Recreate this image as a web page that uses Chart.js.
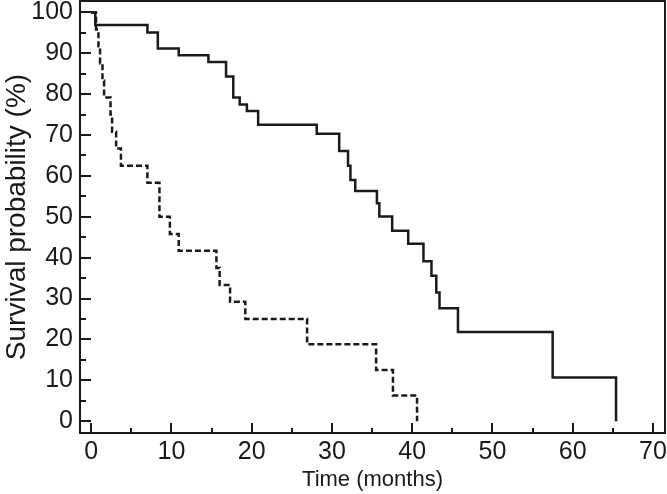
<!DOCTYPE html>
<html>
<head>
<meta charset="utf-8">
<script src="https://cdn.jsdelivr.net/npm/chart.js@4.4.1/dist/chart.umd.min.js"></script>
<style>
  html, body { margin: 0; padding: 0; background: #fff; }
  #wrap { width: 667px; height: 494px; }
</style>
</head>
<body>
<div id="wrap"><canvas id="km"></canvas></div>
<script>
// Kaplan-Meier curves (time in months, survival in %)
const solidTimes = [0, 0.5, 7.0, 8.3, 10.9, 14.6, 16.8, 17.7, 18.5, 19.4, 20.8, 28.1, 30.9, 32.0, 32.3, 32.9,
                    35.6, 35.9, 37.5, 39.5, 41.4, 42.4, 43.0, 43.4, 45.7, 57.5, 65.4];
const solidSurv  = [100, 96.9, 95.1, 91.2, 89.5, 87.9, 84.3, 79.2, 77.5, 75.9, 72.5, 70.3, 66.1, 62.5, 59.0, 56.3,
                    53.3, 50.1, 46.6, 43.4, 39.1, 35.6, 31.5, 27.6, 21.8, 10.7, 0];

const dashedTimes = [0, 0.6, 0.9, 1.1, 1.4, 1.6, 2.4, 2.6, 3.1, 3.7, 7.0, 8.5, 9.8, 10.9, 15.6, 16.0,
                     17.3, 19.2, 26.9, 35.5, 37.6, 40.6];
const dashedSurv  = [100, 95.8, 91.7, 87.5, 83.3, 79.2, 75, 70.8, 66.7, 62.5, 58.3, 50, 45.8, 41.7, 37.5, 33.3,
                     29.2, 25, 18.8, 12.5, 6.3, 0];

// axis ticks
const xTicks = [0, 10, 20, 30, 40, 50, 60, 70];
const yTicks = [0, 10, 20, 30, 40, 50, 60, 70, 80, 90, 100];

const toPoints = (xs, ys) => xs.map((x, i) => ({ x: x, y: ys[i] }));
const FONT = '"Liberation Sans", Arial, sans-serif';
const INK = '#1a1a1a';

// frame + inward tick marks (major every 10, minor every 5)
const frameTicks = {
    id: 'frameTicks',
    afterDatasetsDraw(chart) {
        const { ctx, chartArea: a, scales } = chart;
        ctx.save();
        ctx.strokeStyle = INK;
        ctx.lineWidth = 2;
        ctx.strokeRect(a.left, a.top, a.right - a.left, a.bottom - a.top);
        ctx.beginPath();
        for (let v = 0; v <= 70; v += 5) {
            const px = Math.round(scales.x.getPixelForValue(v));
            const len = v % 10 === 0 ? 10 : 5;
            ctx.moveTo(px, a.bottom);
            ctx.lineTo(px, a.bottom - len);
        }
        for (let v = 0; v <= 100; v += 5) {
            const py = Math.round(scales.y.getPixelForValue(v));
            const len = v % 10 === 0 ? 11 : 6;
            ctx.moveTo(a.left, py);
            ctx.lineTo(a.left + len, py);
        }
        ctx.stroke();
        ctx.restore();
    }
};

new Chart(document.getElementById('km'), {
    type: 'line',
    data: {
        datasets: [
            {
                label: 'Group A',
                data: toPoints(solidTimes, solidSurv),
                borderColor: INK,
                borderWidth: 2.5,
                stepped: 'before',
                pointRadius: 0,
                fill: false
            },
            {
                label: 'Group B',
                data: toPoints(dashedTimes, dashedSurv),
                borderColor: INK,
                borderWidth: 2.5,
                borderDash: [6, 3],
                stepped: 'before',
                pointRadius: 0,
                fill: false
            }
        ]
    },
    options: {
        responsive: true,
        maintainAspectRatio: false,
        animation: false,
        layout: { padding: { top: 1, right: 2, left: 0, bottom: 0 } },
        plugins: {
            legend: { display: false },
            tooltip: { enabled: false }
        },
        scales: {
            x: {
                type: 'linear',
                min: -1.4,
                max: 71.5,
                afterBuildTicks: (s) => { s.ticks = xTicks.map(v => ({ value: v })); },
                afterFit: (s) => {
                    s.height = 61;
                    s.paddingLeft = 0; s.paddingRight = 0;
                },
                grid: { display: false, drawTicks: false },
                border: { display: false },
                ticks: { color: INK, padding: 4, autoSkip: false, maxRotation: 0,
                         font: { family: FONT, size: 25 } },
                title: {
                    display: true,
                    text: 'Time (months)',
                    color: INK,
                    font: { family: FONT, size: 22 },
                    padding: { top: 0, bottom: 1 }
                }
            },
            y: {
                type: 'linear',
                min: -2.9,
                max: 102.8,
                afterBuildTicks: (s) => { s.ticks = yTicks.map(v => ({ value: v })); },
                afterFit: (s) => {
                    s.width = 80;
                    s.paddingTop = 0; s.paddingBottom = 0;
                },
                grid: { display: false, drawTicks: false },
                border: { display: false },
                ticks: { color: INK, padding: 7, autoSkip: false, font: { family: FONT, size: 25 } },
                title: {
                    display: true,
                    text: 'Survival probability (%)',
                    color: INK,
                    font: { family: FONT, size: 28 },
                    padding: { top: 0, bottom: 0 }
                }
            }
        }
    },
    plugins: [frameTicks]
});
</script>
</body>
</html>
